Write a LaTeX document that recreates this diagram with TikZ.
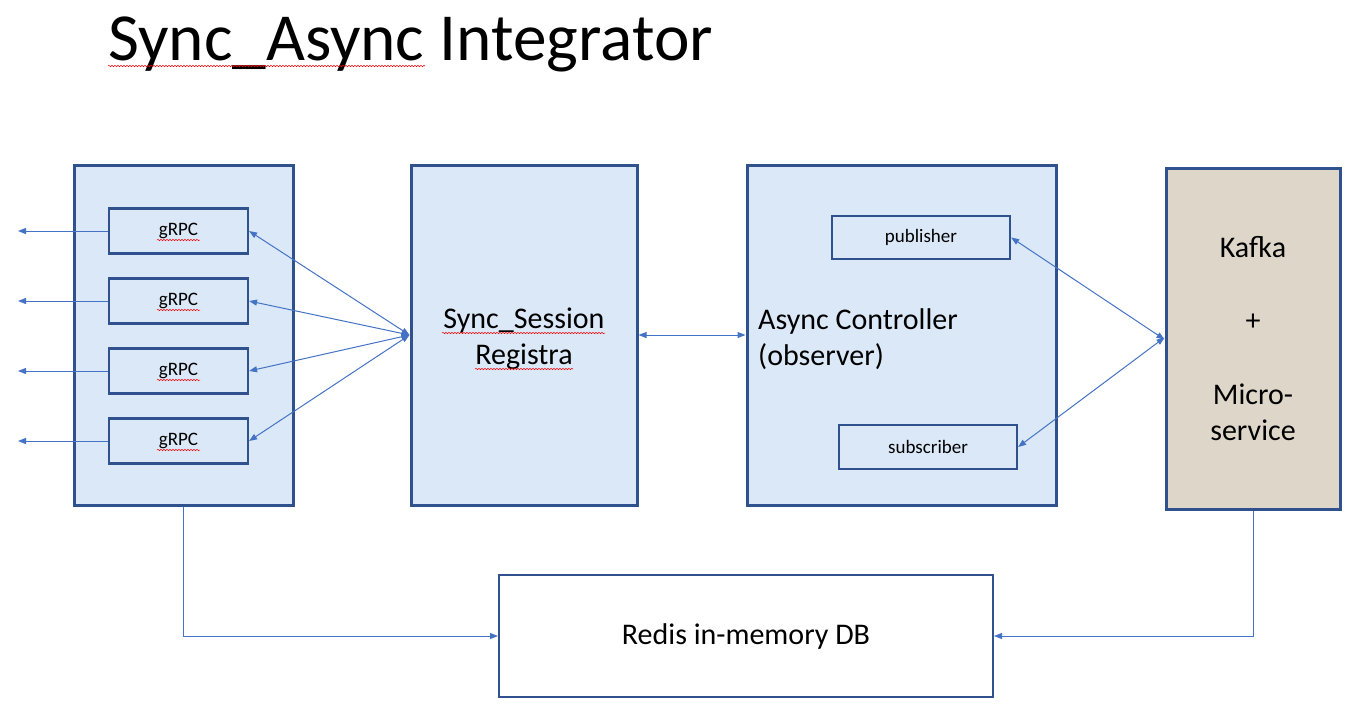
\documentclass[tikz,border=0pt]{standalone}
\usepackage{fontspec}
\setmainfont{Carlito}
\usetikzlibrary{arrows.meta,decorations.pathmorphing}
\definecolor{bord}{RGB}{47,82,143}
\definecolor{arr}{RGB}{68,114,196}
\definecolor{lblue}{RGB}{218,232,248}
\definecolor{beige}{RGB}{222,214,201}
\tikzset{
  bigbox/.style={draw=bord,line width=3pt,fill=lblue,rectangle,inner sep=0pt},
  smallbox/.style={draw=bord,line width=2.2pt,rectangle,inner sep=0pt,font=\fontsize{19}{22}\selectfont},
  conn/.style={draw=arr,line width=1pt,-{Triangle[length=8pt,width=6pt]}},
  dconn/.style={draw=arr,line width=1pt,{Triangle[length=8pt,width=6pt]}-{Triangle[length=8pt,width=6pt]}},
  bigtext/.style={font=\fontsize{30}{36}\selectfont},
  squig/.style={draw=red,line width=0.5pt,decorate,decoration={snake,amplitude=0.7pt,segment length=3pt}}
}
\begin{document}
\begin{tikzpicture}[x=1pt,y=-1pt]
\useasboundingbox (0,0) rectangle (1347,705);
% title
\node[anchor=base west,inner sep=0pt,font=\fontsize{67.3}{70}\selectfont] (title) at (108,60) {Sync\_Async Integrator};
\draw[squig] (108,66) -- (425,66);
% left box
\node[bigbox,minimum width=219pt,minimum height=340pt] (left) at (183.5,335) {};
\foreach \i/\y in {1/231,2/301,3/371,4/441}{
  \node[smallbox,minimum width=139pt,minimum height=45pt] (g\i) at (178.5,\y) {gRPC};
  \coordinate (o\i) at (18,\y);
  \draw[conn] (g\i.west) -- (o\i);
  \draw[squig] (157,\y+9) -- (200,\y+9);
}
% sync session
\node[bigbox,minimum width=226pt,minimum height=340pt] (sess) at (524,335) {};
\node[bigtext,align=center,inner sep=0pt] (sesst) at (524,339) {Sync\_Session\\Registra};
\draw[squig] (442,333) -- (605,333);
\draw[squig] (475,369) -- (573,369);
% async
\node[bigbox,minimum width=309pt,minimum height=340pt] (async) at (901.5,335) {};
\node[bigtext,align=left,anchor=west,inner sep=0pt] (asynct) at (758,339) {Async Controller\\(observer)};
\node[smallbox,minimum width=178pt,minimum height=43pt] (pub) at (921,237.5) {publisher};
\node[smallbox,minimum width=178pt,minimum height=44pt] (sub) at (928,447) {subscriber};
% kafka
\node[bigbox,fill=beige,minimum width=174pt,minimum height=341pt] (kafka) at (1253,338.5) {};
\node[bigtext,inner sep=0pt] (k1) at (1253,247) {Kafka};
\node[bigtext,inner sep=0pt] (k2) at (1253,322) {+};
\node[bigtext,inner sep=0pt,align=center] (k3) at (1253,412) {Micro-\\service};
% redis
\node[draw=bord,line width=2pt,fill=white,minimum width=494pt,minimum height=122pt,bigtext] (redis) at (746,636) {Redis in-memory DB};
% connectors
\foreach \i in {1,2,3,4}{
  \draw[dconn] (sess.west) -- (g\i.east);
}
\draw[dconn] (sess.east) -- (async.west);
\draw[dconn] (pub.east) -- ([yshift=-1pt]kafka.west);
\draw[dconn] (sub.east) -- ([yshift=1pt]kafka.west);
\draw[conn] (left.south) |- (redis.west);
\draw[conn] (kafka.south) |- (redis.east);
\end{tikzpicture}
\end{document}
